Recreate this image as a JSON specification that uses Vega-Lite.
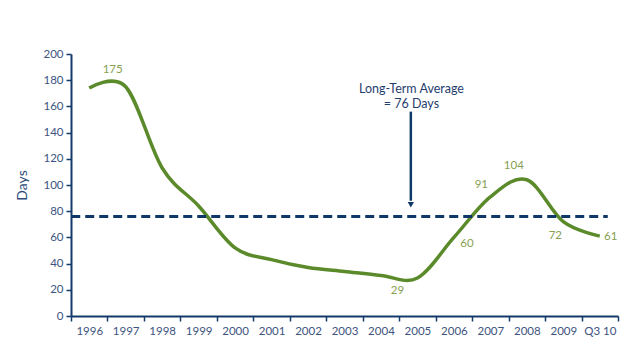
{
  "$schema": "https://vega.github.io/schema/vega-lite/v6.json",
  "width": 547,
  "height": 262,
  "autosize": {"type": "none"},
  "padding": {"left": 71, "top": 54, "right": 9, "bottom": 21},
  "background": "white",
  "config": {
    "view": {"stroke": null},
    "font": "Lato",
    "axis": {
      "domainColor": "#123a6b",
      "domainWidth": 2,
      "tickColor": "#123a6b",
      "tickWidth": 1.5,
      "labelColor": "#3d5480",
      "labelFont": "Lato",
      "labelFontSize": 11.5,
      "titleFont": "Lato",
      "titleColor": "#2b4a7a",
      "titleFontWeight": "normal",
      "grid": false
    }
  },
  "data": {
    "values": [
      {"period": "1996", "days": 174},
      {"period": "1997", "days": 175},
      {"period": "1998", "days": 113},
      {"period": "1999", "days": 84},
      {"period": "2000", "days": 52},
      {"period": "2001", "days": 43},
      {"period": "2002", "days": 37},
      {"period": "2003", "days": 34},
      {"period": "2004", "days": 31},
      {"period": "2005", "days": 29},
      {"period": "2006", "days": 60},
      {"period": "2007", "days": 91},
      {"period": "2008", "days": 104},
      {"period": "2009", "days": 72},
      {"period": "Q3 10", "days": 61}
    ]
  },
  "encoding": {
    "x": {
      "field": "period",
      "type": "ordinal",
      "sort": null,
      "scale": {"paddingInner": 0, "paddingOuter": 0},
      "axis": {"title": null, "labelAngle": 0, "tickBand": "extent", "tickSize": 5, "labelPadding": 4}
    },
    "y": {
      "field": "days",
      "type": "quantitative",
      "scale": {"domain": [0, 200], "nice": false},
      "axis": {"title": "Days", "titleFontSize": 14, "values": [0,20,40,60,80,100,120,140,160,180,200], "labelOverlap": false, "tickSize": 5, "labelPadding": 3, "titlePadding": 13}
    }
  },
  "layer": [
    {
      "mark": {"type": "line", "interpolate": "cardinal", "color": "#5b8a2b", "strokeWidth": 3.5}
    },
    {
      "data": {"values": [{"days": 76, "from": "1996", "to": "Q3 10"}]},
      "mark": {"type": "rule", "color": "#0f3868", "strokeWidth": 3, "strokeDash": [9, 5], "xOffset": -18, "x2Offset": 8},
      "encoding": {
        "x": {"field": "from", "type": "ordinal"},
        "x2": {"field": "to"}
      }
    },
    {
      "transform": [{"filter": "datum.period == '1997'"}],
      "mark": {"type": "text", "color": "#86a050", "fontSize": 11.5, "dx": -13, "dy": -17},
      "encoding": {"text": {"field": "days"}}
    },
    {
      "transform": [{"filter": "datum.period == '2005'"}],
      "mark": {"type": "text", "color": "#86a050", "fontSize": 11.5, "dx": -20, "dy": 13},
      "encoding": {"text": {"field": "days"}}
    },
    {
      "transform": [{"filter": "datum.period == '2006'"}],
      "mark": {"type": "text", "color": "#86a050", "fontSize": 11.5, "dx": 13, "dy": 7},
      "encoding": {"text": {"field": "days"}}
    },
    {
      "transform": [{"filter": "datum.period == '2007'"}],
      "mark": {"type": "text", "color": "#86a050", "fontSize": 11.5, "dx": -9, "dy": -12},
      "encoding": {"text": {"field": "days"}}
    },
    {
      "transform": [{"filter": "datum.period == '2008'"}],
      "mark": {"type": "text", "color": "#86a050", "fontSize": 11.5, "dx": -13, "dy": -14},
      "encoding": {"text": {"field": "days"}}
    },
    {
      "transform": [{"filter": "datum.period == '2009'"}],
      "mark": {"type": "text", "color": "#86a050", "fontSize": 11.5, "dx": -8, "dy": 14},
      "encoding": {"text": {"field": "days"}}
    },
    {
      "transform": [{"filter": "datum.period == 'Q3 10'"}],
      "mark": {"type": "text", "color": "#86a050", "fontSize": 11.5, "dx": 11, "dy": 1},
      "encoding": {"text": {"field": "days"}}
    },
    {
      "data": {"values": [{"period": "2005", "note": "Long-Term Average\n= 76 Days", "days": 173}]},
      "mark": {"type": "text", "color": "#1f3d6e", "fontSize": 12.5, "lineBreak": "\n", "lineHeight": 15, "baseline": "middle", "xOffset": -6},
      "encoding": {"text": {"field": "note"}}
    },
    {
      "data": {"values": [{"period": "2005", "days": 156, "bottom": 88}]},
      "mark": {"type": "rule", "color": "#0f3868", "strokeWidth": 2.5, "xOffset": -6.6},
      "encoding": {"y2": {"field": "bottom"}}
    },
    {
      "data": {"values": [{"period": "2005", "days": 85}]},
      "mark": {"type": "point", "shape": "triangle-down", "filled": true, "color": "#0f3868", "opacity": 1, "size": 40, "xOffset": -6.6}
    }
  ]
}
